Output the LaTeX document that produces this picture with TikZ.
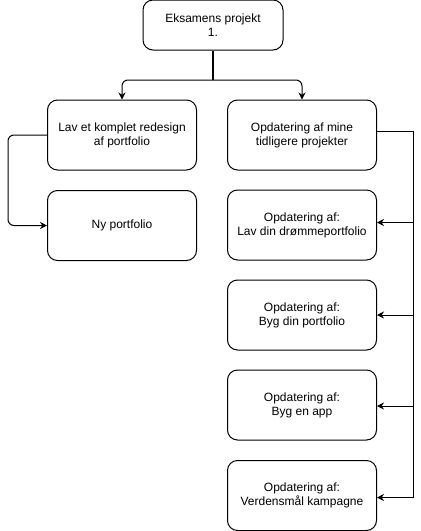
\documentclass[tikz,border=0pt]{standalone}
\usepackage{fontspec}
\setmainfont{Liberation Sans}
\usetikzlibrary{arrows.meta,positioning}

\begin{document}
\begin{tikzpicture}[
  x=1pt, y=-1pt,
  font=\fontsize{12}{14}\selectfont,
  box/.style={draw, line width=1pt, rounded corners=10pt, align=center, minimum width=149pt, minimum height=70pt, inner sep=0pt},
  topbox/.style={box, minimum width=140pt, minimum height=50pt},
  arrow/.style={-{Stealth[length=7pt,width=7pt]}, line width=1pt},
  link/.style={line width=1pt}
]
\useasboundingbox (0,0) rectangle (421,531);

\node[topbox] (exam) at (213,25) {Eksamens projekt\\1.};

\node[box] (redesign) at (122,135) {Lav et komplet redesign\\af portfolio};
\node[box] (nyport) at (122,225.5) {Ny portfolio};

\node[box] (tidligere) at (302,135) {Opdatering af mine\\tidligere projekter};
\node[box] (drom) at (302,225) {Opdatering af:\\Lav din drømmeportfolio};
\node[box] (byg) at (302,315) {Opdatering af:\\Byg din portfolio};
\node[box] (app) at (302,405) {Opdatering af:\\Byg en app};
\node[box] (verden) at (302,495.5) {Opdatering af:\\Verdensmål kampagne};

% split from the top
\coordinate (split) at (213,80);
\draw[line width=2pt] (exam.south) -- (split);
\draw[arrow, rounded corners=6pt] (split) -| (redesign.north);
\draw[arrow, rounded corners=6pt] (split) -| (tidligere.north);

% left loop
\draw[arrow, rounded corners=6pt] (redesign.west) -- ++(-39,0) |- (nyport.west);

% right rail
\coordinate (railtop) at (413,131);
\coordinate (r1) at (413,222.5);
\coordinate (r2) at (413,315);
\coordinate (r3) at (413,406);
\coordinate (r4) at (413,497.5);
\draw[link] (tidligere.east |- railtop) -- (railtop) -- (r4);
\draw[arrow] (r1) -- (drom.east |- r1);
\draw[arrow] (r2) -- (byg.east |- r2);
\draw[arrow] (r3) -- (app.east |- r3);
\draw[arrow] (r4) -- (verden.east |- r4);

\end{tikzpicture}
\end{document}
